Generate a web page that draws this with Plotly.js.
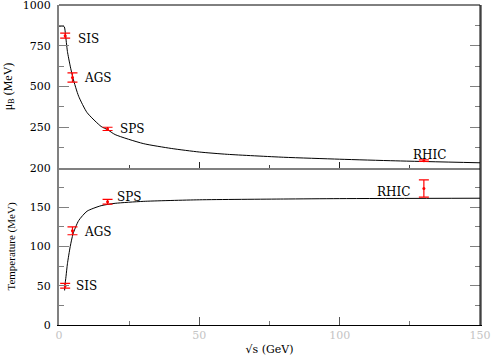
<!DOCTYPE html>
<html>
<head>
<meta charset="utf-8">
<script src="https://cdn.plot.ly/plotly-3.0.1.min.js"></script>
<style>html,body{margin:0;padding:0;background:#fff;}#chart{width:494px;height:356px;}</style>
</head>
<body>
<div id="chart"></div>
<script>
// ---- data ----
const experiments = ['SIS', 'AGS', 'SPS', 'RHIC'];
const sqrtS = [2.2, 4.8, 17.3, 130];          // GeV
const muB = [812, 555, 240, 45];              // MeV
const muBErr = [15, 28, 10, 5];
const temperature = [50, 120, 157, 174];      // MeV
const temperatureErr = [3, 5, 3, 11];

// freeze-out curves
const curveMuBS = [0, 1.3, 1.9, 2.3, 3, 4, 5, 7, 10, 15, 17.3, 20, 30, 40, 50, 60, 80, 100, 120, 150];
const curveMuB  = [870, 870, 866, 820, 715, 625, 550, 440, 340, 255, 235, 205, 150, 120, 98, 84, 66, 54, 44, 32];
const curveTS = [2.0, 2.1, 2.5, 3, 4, 5, 7, 10, 15, 20, 30, 50, 80, 100, 150];
const curveT  = [44, 50, 62, 78, 100, 116, 133, 145, 152, 155, 157.5, 159.5, 160.5, 161, 161.5];

const xTicks = [0, 50, 100, 150];
const muBTicks = [250, 500, 750, 1000];
const tTicks = [0, 50, 100, 150, 200];

// ---- styles ----
const serif = 'DejaVu Serif, Liberation Serif, serif';
const red = '#ff0000';

const traces = [
  {x: curveMuBS, y: curveMuB, xaxis: 'x2', yaxis: 'y2', mode: 'lines',
   line: {color: '#000', width: 1, shape: 'spline', smoothing: 0.6}, hoverinfo: 'skip'},
  {x: sqrtS, y: muB, xaxis: 'x2', yaxis: 'y2', mode: 'markers', text: experiments,
   marker: {color: red, size: 3, symbol: 'circle'},
   error_y: {type: 'data', array: muBErr, color: red, thickness: 1.2, width: 5}},
  {x: curveTS, y: curveT, xaxis: 'x', yaxis: 'y', mode: 'lines',
   line: {color: '#000', width: 1, shape: 'spline', smoothing: 0.6}, hoverinfo: 'skip'},
  {x: sqrtS, y: temperature, xaxis: 'x', yaxis: 'y', mode: 'markers', text: experiments,
   marker: {color: red, size: 3, symbol: 'circle'},
   error_y: {type: 'data', array: temperatureErr, color: red, thickness: 1.2, width: 5}}
];

const labelFont = {family: serif, size: 12, color: '#000'};
const annPos = {
  top: [{x: 6.1, y: 794, xa: 'left'}, {x: 8.2, y: 552, xa: 'left'}, {x: 21, y: 242, xa: 'left'}, {x: 132, y: 82, xa: 'center'}],
  bot: [{x: 5.3, y: 50, xa: 'left'}, {x: 8.2, y: 118, xa: 'left'}, {x: 20, y: 163, xa: 'left'}, {x: 125.8, y: 169, xa: 'right'}]
};
const annotations = [];
experiments.forEach((name, i) => {
  const t = annPos.top[i], b = annPos.bot[i];
  annotations.push({x: t.x, y: t.y, xref: 'x2', yref: 'y2', text: name, showarrow: false,
    xanchor: t.xa, yanchor: 'middle', font: labelFont});
  annotations.push({x: b.x, y: b.y, xref: 'x', yref: 'y', text: name, showarrow: false,
    xanchor: b.xa, yanchor: 'middle', font: labelFont});
});

const gray = '#808080';
const layout = {
  width: 494, height: 356,
  margin: {l: 59, r: 14, t: 5, b: 31, pad: 0},
  paper_bgcolor: '#fff', plot_bgcolor: '#fff',
  showlegend: false,
  xaxis: {
    anchor: 'y', range: [0, 150], tickmode: 'array', tickvals: xTicks,
    ticks: 'inside', ticklen: 8, tickcolor: '#555', tickwidth: 1,
    minor: {tickmode: 'linear', tick0: 0, dtick: 25, ticks: 'inside', ticklen: 4, tickcolor: '#777'},
    showline: true, linecolor: '#000', linewidth: 1, mirror: false,
    showgrid: false, zeroline: false,
    tickfont: {family: serif, size: 11, color: '#c4c4c4'},
    title: {text: '\u221As (GeV)', font: {family: serif, size: 11, color: '#000'}, standoff: 6}
  },
  xaxis2: {
    anchor: 'y2', matches: 'x', range: [0, 150], tickmode: 'array', tickvals: xTicks,
    ticks: 'inside', ticklen: 6, tickcolor: '#222', tickwidth: 1, showticklabels: false,
    minor: {tickmode: 'linear', tick0: 0, dtick: 25, ticks: 'inside', ticklen: 3, tickcolor: '#444'},
    showline: true, linecolor: gray, linewidth: 2,
    showgrid: false, zeroline: false
  },
  yaxis: {
    domain: [0, 0.4906], range: [0, 200], tickmode: 'array', tickvals: tTicks,
    ticks: 'inside', ticklen: 10, tickcolor: gray, tickwidth: 1,
    minor: {tickmode: 'linear', tick0: 0, dtick: 25, ticks: 'inside', ticklen: 5, tickcolor: gray},
    showline: true, linecolor: gray, linewidth: 2, mirror: 'ticks',
    showgrid: false, zeroline: false, ticklabelstandoff: 4, ticklabeloverflow: 'allow',
    tickfont: {family: serif, size: 11, color: '#000'},
    title: {text: 'Temperature (MeV)', font: {family: 'Liberation Serif, serif', size: 11, color: '#000'}, standoff: 12}
  },
  yaxis2: {
    domain: [0.4906, 1], range: [0, 1000], tickmode: 'array', tickvals: muBTicks,
    ticks: 'inside', ticklen: 10, tickcolor: gray, tickwidth: 1,
    minor: {tickmode: 'linear', tick0: 0, dtick: 125, ticks: 'inside', ticklen: 5, tickcolor: gray},
    showline: true, linecolor: gray, linewidth: 2, mirror: 'ticks',
    showgrid: false, zeroline: false, ticklabelstandoff: 4, ticklabeloverflow: 'allow',
    tickfont: {family: serif, size: 11, color: '#000'},
    title: {text: '\u03BC<sub>B</sub> (MeV)', font: {family: 'Liberation Serif, serif', size: 12, color: '#000'}, standoff: 8}
  },
  annotations: annotations,
  shapes: [
    {type: 'line', xref: 'paper', yref: 'paper', x0: 0, x1: 1, y0: 1, y1: 1, line: {color: '#000', width: 1}},
    {type: 'line', xref: 'paper', yref: 'paper', x0: 1, x1: 1, y0: 0, y1: 1, line: {color: '#000', width: 1}}
  ]
};

Plotly.newPlot('chart', traces, layout, {displayModeBar: false, staticPlot: true});
</script>
</body>
</html>
